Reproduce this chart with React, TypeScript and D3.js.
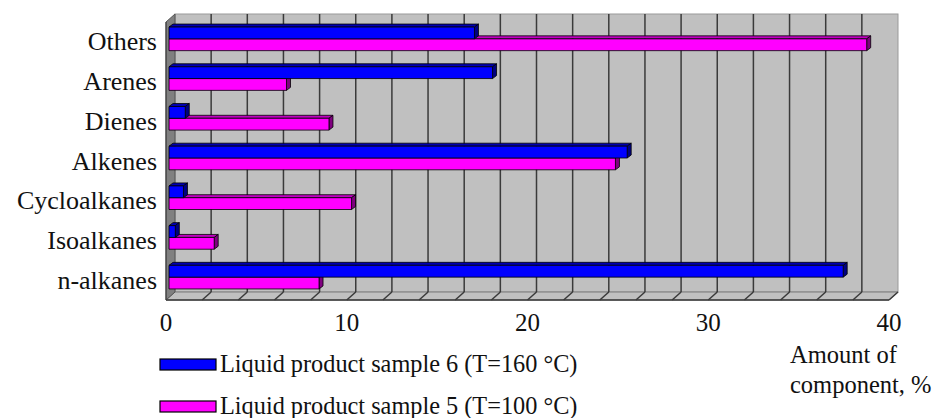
import React from "react";
import * as d3 from "d3";

// Hydrocarbon group composition of two liquid products, %
const categories = ["Others", "Arenes", "Dienes", "Alkenes", "Cycloalkanes", "Isoalkanes", "n-alkanes"];
const sample6 = [16.9, 17.9, 0.9, 25.35, 0.8, 0.35, 37.3];
const sample5 = [38.6, 6.5, 8.85, 24.7, 10.1, 2.5, 8.3];
const xTickLabels = [0, 10, 20, 30, 40];
const gridValues = d3.range(0, 41, 2);
const seriesNames = ["Liquid product sample 6 (T=160 °C)", "Liquid product sample 5 (T=100 °C)"];

const W = 944;
const H = 418;
const FONT = "Liberation Serif, Times New Roman, DejaVu Serif, serif";

// 3-D frame: front plane and the depth offset of the back wall
const FRONT_LEFT = 166;
const FRONT_RIGHT = 889;
const FRONT_TOP = 22;
const FRONT_BOTTOM = 300;
const DEPTH_X = 9;
const DEPTH_Y = -8;

// bars sit a little behind the front plane and have their own thickness
const BAR_OFF_X = 3;
const BAR_OFF_Y = -3;
const BAR_DX = 4;
const BAR_DY = -3;
const BAR_H = 11.8;

const BLUE = { front: "#0000ff", top: "#0000b0", side: "#000080" };
const MAGENTA = { front: "#ff00ff", top: "#c000c0", side: "#800080" };

const textStyle = { fontFamily: FONT, fill: "#111" } as const;

function Bar3D({ x0, x1, y, h, c }: { x0: number; x1: number; y: number; h: number; c: typeof BLUE }) {
  const top = `${x0},${y} ${x0 + BAR_DX},${y + BAR_DY} ${x1 + BAR_DX},${y + BAR_DY} ${x1},${y}`;
  const side = `${x1},${y} ${x1 + BAR_DX},${y + BAR_DY} ${x1 + BAR_DX},${y + h + BAR_DY} ${x1},${y + h}`;
  return (
    <g stroke="#000" strokeWidth={0.8} strokeLinejoin="round">
      <polygon points={top} fill={c.top} />
      <polygon points={side} fill={c.side} />
      <rect x={x0} y={y} width={Math.max(0, x1 - x0)} height={h} fill={c.front} />
    </g>
  );
}

export default function App() {
  const xFront = d3.scaleLinear().domain([0, 40]).range([FRONT_LEFT, FRONT_RIGHT]);
  const xBack = (v: number) => xFront(v) + DEPTH_X;
  const xBar = (v: number) => xFront(v) + BAR_OFF_X;
  const y = d3.scaleBand<string>().domain(categories).range([FRONT_TOP, FRONT_BOTTOM]);

  const backTop = FRONT_TOP + DEPTH_Y;
  const backBottom = FRONT_BOTTOM + DEPTH_Y;

  return (
    <svg
      width={W}
      height={H}
      viewBox={`0 0 ${W} ${H}`}
      style={{ position: "absolute", left: 0, top: 0, background: "#fff" }}
    >
      {/* back wall */}
      <rect
        x={xBack(0)}
        y={backTop}
        width={xBack(40) - xBack(0)}
        height={backBottom - backTop}
        fill="#c0c0c0"
        stroke="#9a9a9a"
        strokeWidth={1}
      />
      {/* floor */}
      <polygon
        points={`${xFront(0)},${FRONT_BOTTOM} ${xFront(40)},${FRONT_BOTTOM} ${xBack(40)},${backBottom} ${xBack(0)},${backBottom}`}
        fill="#c0c0c0"
        stroke="#7a7a7a"
        strokeWidth={1}
      />
      {/* left side wall */}
      <polygon
        points={`${xFront(0)},${FRONT_TOP} ${xBack(0)},${backTop} ${xBack(0)},${backBottom} ${xFront(0)},${FRONT_BOTTOM}`}
        fill="#808080"
        stroke="#555"
        strokeWidth={1}
      />
      {/* gridlines on the back wall and across the floor */}
      <g stroke="#3a3a3a" strokeWidth={1.5} fill="none">
        {gridValues.map((v) =>
          v > 0 && v < 40 ? (
            <line key={`g${v}`} x1={xBack(v)} x2={xBack(v)} y1={backTop} y2={backBottom} />
          ) : null
        )}
        {gridValues.map((v) =>
          v > 0 ? (
            <line key={`f${v}`} x1={xBack(v)} x2={xFront(v)} y1={backBottom} y2={FRONT_BOTTOM} />
          ) : null
        )}
      </g>
      <line x1={xFront(0)} x2={xFront(40)} y1={FRONT_BOTTOM} y2={FRONT_BOTTOM} stroke="#3a3a3a" strokeWidth={1.5} />
      <line x1={xFront(0)} x2={xFront(0)} y1={FRONT_TOP} y2={FRONT_BOTTOM} stroke="#3a3a3a" strokeWidth={1} />

      {/* bars */}
      {categories.map((cat, i) => {
        const cy = (y(cat) as number) + y.bandwidth() / 2 + BAR_OFF_Y;
        return (
          <g key={cat}>
            <Bar3D x0={xBar(0)} x1={xBar(sample5[i])} y={cy} h={BAR_H} c={MAGENTA} />
            <Bar3D x0={xBar(0)} x1={xBar(sample6[i])} y={cy - BAR_H} h={BAR_H} c={BLUE} />
          </g>
        );
      })}

      {/* category labels */}
      {categories.map((cat) => (
        <text
          key={`l${cat}`}
          x={157}
          y={(y(cat) as number) + y.bandwidth() / 2 + 8.5}
          textAnchor="end"
          fontSize={26}
          style={textStyle}
        >
          {cat}
        </text>
      ))}

      {/* value axis tick labels */}
      {xTickLabels.map((t) => (
        <text key={`t${t}`} x={xFront(t)} y={331} textAnchor="middle" fontSize={25} style={textStyle}>
          {t}
        </text>
      ))}

      {/* axis title */}
      <text x={790} y={363} fontSize={24.5} style={textStyle}>Amount of</text>
      <text x={790} y={393} fontSize={24.5} style={textStyle}>component, %</text>

      {/* legend */}
      {[BLUE, MAGENTA].map((c, i) => (
        <g key={`leg${i}`}>
          <rect x={160} y={359 + i * 42} width={56} height={11} fill={c.front} stroke="#000" strokeWidth={1.2} />
          <text x={220} y={372 + i * 42} fontSize={24.3} style={textStyle}>
            {seriesNames[i]}
          </text>
        </g>
      ))}
    </svg>
  );
}
